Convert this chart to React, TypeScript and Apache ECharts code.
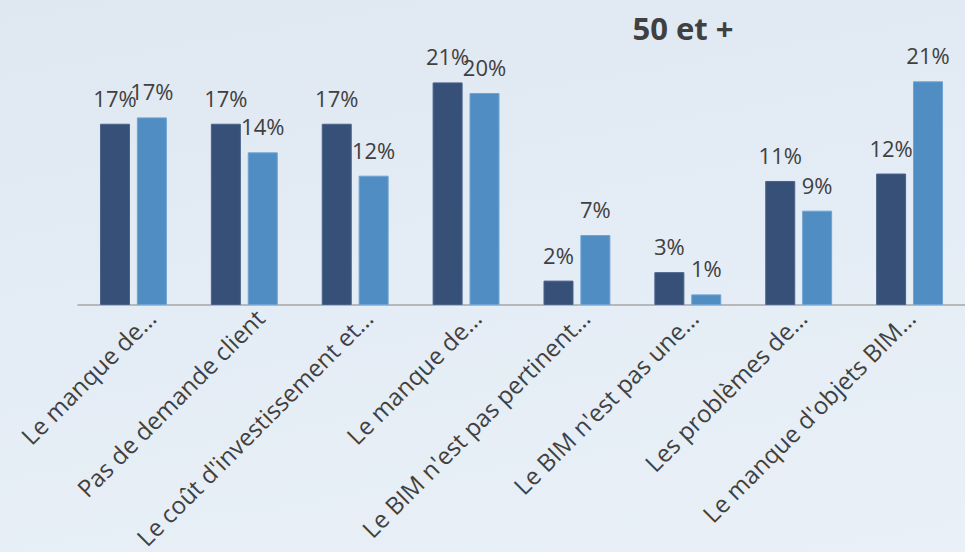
import React, { useEffect, useRef } from "react";
import * as echarts from "echarts";

const categories = [
  "Le manque de…",
  "Pas de demande client",
  "Le coût d'investissement et…",
  "Le manque de…",
  "Le BIM n'est pas pertinent…",
  "Le BIM n'est pas une…",
  "Les problèmes de…",
  "Le manque d'objets BIM…",
];
const darkValues = [17.1, 17.1, 17.1, 21.0, 2.3, 3.1, 11.7, 12.4];
const lightValues = [17.7, 14.4, 12.2, 20.0, 6.6, 1.0, 8.9, 21.1];
const darkLabels = ["17%", "17%", "17%", "21%", "2%", "3%", "11%", "12%"];
const lightLabels = ["17%", "14%", "12%", "20%", "7%", "1%", "9%", "21%"];
const titleText = "50 et +";

export default function App() {
  const ref = useRef<HTMLDivElement>(null);
  useEffect(() => {
    if (!ref.current) return;
    const chart = echarts.init(ref.current, undefined, { renderer: "svg" });
    const font = "'Open Sans', sans-serif";
    const labelStyle = {
      show: true,
      position: "top",
      distance: 15,
      color: "#404040",
      fontSize: 22,
      fontFamily: font,
    };
    chart.setOption({
      animation: false,
      backgroundColor: "transparent",
      title: {
        text: titleText,
        left: 678,
        top: 7,
        textAlign: "center",
        textStyle: { fontSize: 31, fontWeight: "bold", color: "#404040", fontFamily: font },
      },
      grid: [
        { left: 78, right: 0, top: 40, bottom: 247, containLabel: false },
        { left: 97, right: -19, top: 40, bottom: 247, containLabel: false },
      ],
      xAxis: [
        {
          type: "category",
          gridIndex: 0,
          data: categories,
          axisLine: { show: true, lineStyle: { color: "#a6a6a6", width: 1.5 } },
          axisTick: { show: false },
          axisLabel: { show: false },
        },
        {
          type: "category",
          gridIndex: 1,
          data: categories,
          axisLine: { show: false },
          axisTick: { show: false },
          axisLabel: {
            interval: 0,
            rotate: 45,
            margin: 22,
            color: "#404040",
            fontSize: 24,
            fontFamily: font,
          },
        },
      ],
      yAxis: [
        { type: "value", gridIndex: 0, min: 0, max: 25, show: false, splitLine: { show: false } },
        { type: "value", gridIndex: 1, min: 0, max: 25, show: false, splitLine: { show: false } },
      ],
      series: [
        {
          type: "bar",
          data: darkValues,
          barWidth: 30,
          barGap: "23%",
          itemStyle: { color: "#375078", borderColor: "#4a628a", borderWidth: 1 },
          label: { ...labelStyle, formatter: (p: any) => darkLabels[p.dataIndex] },
        },
        {
          type: "bar",
          data: lightValues,
          barWidth: 30,
          itemStyle: { color: "#508dc2", borderColor: "#6ea3d3", borderWidth: 1 },
          label: { ...labelStyle, formatter: (p: any) => lightLabels[p.dataIndex] },
        },
      ],
    });
    return () => chart.dispose();
  }, []);
  return (
    <div
      style={{
        position: "fixed",
        left: 0,
        top: 0,
        width: 965,
        height: 552,
        background: "linear-gradient(170deg, #dfe7f1 0%, #e4ecf5 50%, #e9f0f7 100%)",
      }}
    >
      <div ref={ref} style={{ width: 965, height: 552 }} />
    </div>
  );
}
